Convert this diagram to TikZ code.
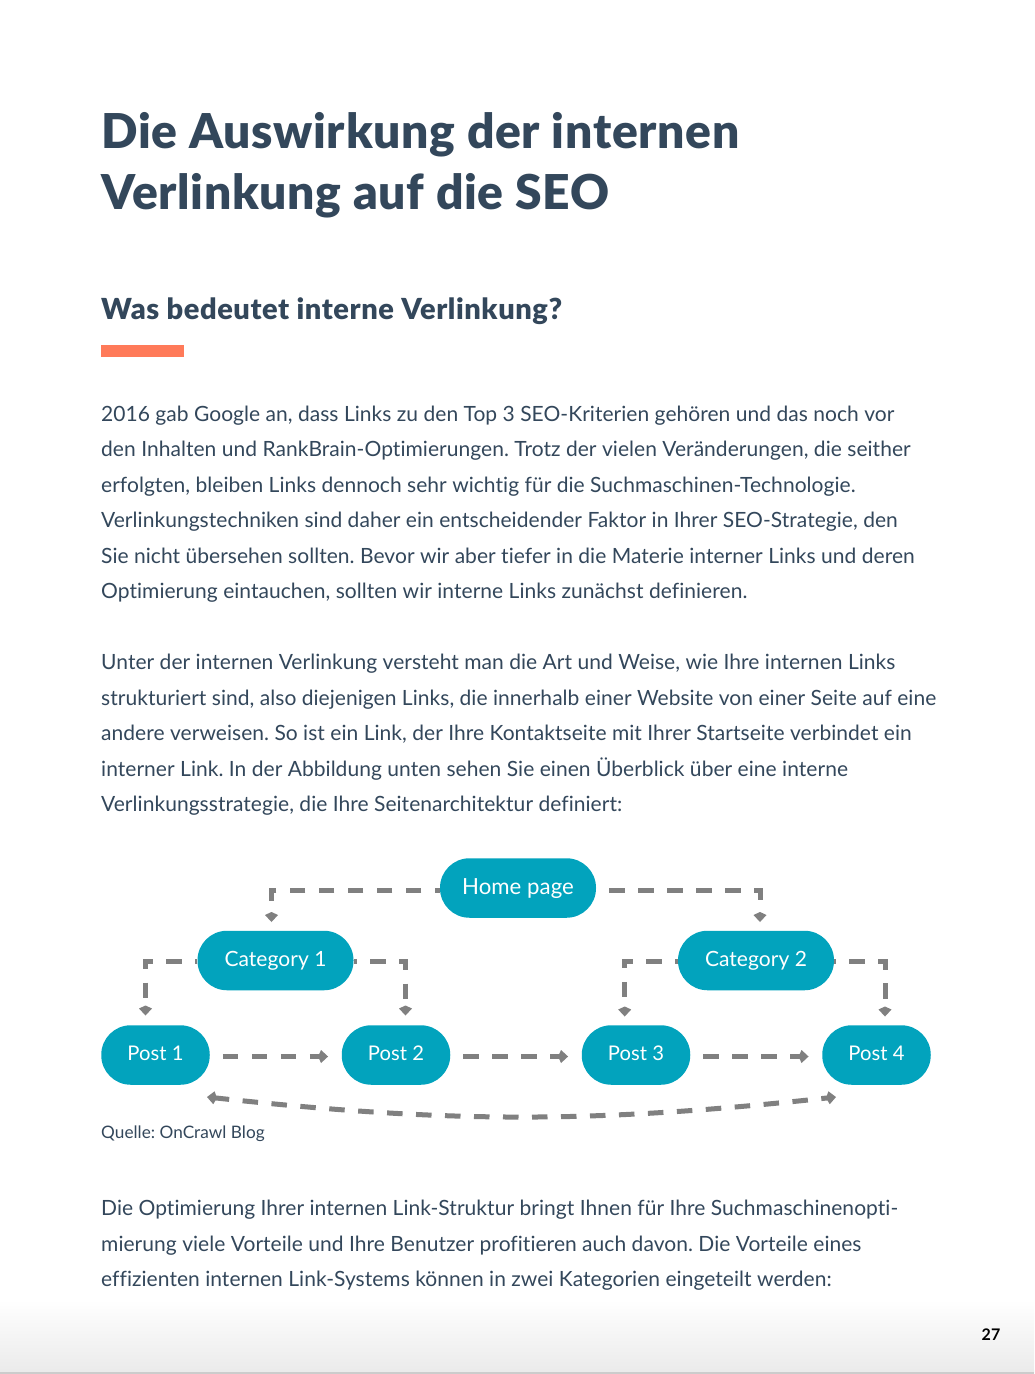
\documentclass[tikz,border=0pt]{standalone}
\usepackage{fontspec}
\setmainfont{Lato}[Ligatures=NoCommon, LetterSpace=0.2]
\newfontfamily\titlefont{Lato Black}[Ligatures=NoCommon, LetterSpace=1.4]
\newfontfamily\headfont{Lato Black}[Ligatures=NoCommon, LetterSpace=2]
\usetikzlibrary{arrows.meta,positioning}
\definecolor{inkblue}{HTML}{33475B}
\definecolor{pillblue}{HTML}{02A3BD}
\definecolor{barorange}{HTML}{FF7A59}
\definecolor{linkgray}{HTML}{808080}
\tikzset{
  linktip/.tip={Kite[length=10pt,width=13pt,inset=3pt]},
  pill/.style={fill=pillblue, text=white, rounded corners=29.5pt, minimum height=59.5pt,
    inner sep=0pt, font=\fontsize{21}{25}\selectfont},
  homepill/.style={pill, minimum width=156pt, text height=17pt, text depth=4.5pt, font=\fontsize{22.2}{25}\selectfont},
  catpill/.style={pill, minimum width=156pt, text height=17pt, text depth=4.5pt},
  postpill/.style={pill, minimum width=108.5pt, text depth=3.5pt, font=\fontsize{20.2}{25}\selectfont},
  link/.style={draw=linkgray, line width=5pt, dash pattern=on 15.5pt off 13.5pt, -linktip},
  titleline/.style={anchor=base west, inner sep=0pt, text=inkblue, font=\fontsize{48}{50}\selectfont\titlefont},
  headline/.style={anchor=base west, inner sep=0pt, text=inkblue, font=\fontsize{29}{30}\selectfont\headfont},
  bodyline/.style={anchor=base west, inner sep=0pt, text=inkblue, font=\fontsize{21}{25}\selectfont\frenchspacing},
  capline/.style={anchor=base west, inner sep=0pt, text=inkblue, font=\fontsize{17.2}{20}\selectfont\frenchspacing}
}
\begin{document}
\begin{tikzpicture}[x=1pt, y=-1pt]
  \useasboundingbox (0,0) rectangle (1034,1374);
  \fill[white] (0,0) rectangle (1034,1374);
  \shade[top color=white, bottom color=black!8] (0,1300) rectangle (1034,1372);
  \fill[black!20] (0,1372) rectangle (1034,1374);

  \node (t1) [titleline] at (101,148) {Die Auswirkung der internen};
  \node (t2) [titleline] at (101,209) {Verlinkung auf die SEO};
  \node (h1) [headline] at (101,319) {Was bedeutet interne Verlinkung?};
  \fill[barorange] (101,345) rectangle (184,357);

  \node (a1) [bodyline] at (101,421) {2016 gab Google an, dass Links zu den Top 3 SEO-Kriterien gehören und das noch vor};
  \node (a2) [bodyline] at (101,456) {den Inhalten und RankBrain-Optimierungen. Trotz der vielen Veränderungen, die seither};
  \node (a3) [bodyline] at (101,492) {erfolgten, bleiben Links dennoch sehr wichtig für die Suchmaschinen-Technologie.};
  \node (a4) [bodyline] at (101,527) {Verlinkungstechniken sind daher ein entscheidender Faktor in Ihrer SEO-Strategie, den};
  \node (a5) [bodyline] at (101,563) {Sie nicht übersehen sollten. Bevor wir aber tiefer in die Materie interner Links und deren};
  \node (a6) [bodyline] at (101,598) {Optimierung eintauchen, sollten wir interne Links zunächst definieren.};

  \node (b1) [bodyline] at (101,669) {Unter der internen Verlinkung versteht man die Art und Weise, wie Ihre internen Links};
  \node (b2) [bodyline] at (101,705) {strukturiert sind, also diejenigen Links, die innerhalb einer Website von einer Seite auf eine};
  \node (b3) [bodyline] at (101,740) {andere verweisen. So ist ein Link, der Ihre Kontaktseite mit Ihrer Startseite verbindet ein};
  \node (b4) [bodyline] at (101,776) {interner Link. In der Abbildung unten sehen Sie einen Überblick über eine interne};
  \node (b5) [bodyline] at (101,811) {Verlinkungsstrategie, die Ihre Seitenarchitektur definiert:};

  % diagram
  \node (home) [homepill] at (518,888) {Home page};
  \node (cat1) [catpill] at (275.5,960.5) {Category 1};
  \node (cat2) [catpill] at (756,960.5) {Category 2};
  \node (post1) [postpill] at (155.5,1055) {Post 1};
  \node (post2) [postpill] at (396,1055) {Post 2};
  \node (post3) [postpill] at (636,1055) {Post 3};
  \node (post4) [postpill] at (876.5,1055) {Post 4};

  \coordinate (cat1in) at (271.5,922);
  \coordinate (cat2in) at (760,922);
  \coordinate (post1in) at (145.5,1015.5);
  \coordinate (post2in) at (405.5,1015.5);
  \coordinate (post3in) at (624.7,1016.5);
  \coordinate (post4in) at (885,1016.5);
  \coordinate (post1low) at (207,1097);
  \coordinate (post4low) at (836,1097);

  \draw [link, dash phase=10.5pt] ([yshift=-2pt]home.west) -| (cat1in);
  \draw [link, shorten <=13pt] ([yshift=-2pt]home.east) -| (cat2in);
  \draw [link, dash phase=13.5pt] ([yshift=-0.5pt]cat1.west) -| (post1in);
  \draw [link, dash phase=12.5pt] ([yshift=-0.5pt]cat1.east) -| (post2in);
  \draw [link, dash phase=13pt] ([yshift=-0.5pt]cat2.west) -| (post3in);
  \draw [link, dash phase=14pt] ([yshift=-0.5pt]cat2.east) -| (post4in);
  \draw [link, shorten <=13pt, shorten >=13.5pt] ([yshift=-1.5pt]post1.east) -- ([yshift=-1.5pt]post2.west);
  \draw [link, shorten <=13pt, shorten >=13.5pt] ([yshift=-1.5pt]post2.east) -- ([yshift=-1.5pt]post3.west);
  \draw [link, shorten <=13pt, shorten >=13.5pt] ([yshift=-1.5pt]post3.east) -- ([yshift=-1.5pt]post4.west);
  \draw [link, linktip-linktip] (post1low) to [bend right=6.2] (post4low);

  \node (source) [capline] at (101,1138) {Quelle: OnCrawl Blog};

  \node (c1) [bodyline] at (101,1215) {Die Optimierung Ihrer internen Link-Struktur bringt Ihnen für Ihre Suchmaschinenopti-};
  \node (c2) [bodyline] at (101,1251) {mierung viele Vorteile und Ihre Benutzer profitieren auch davon. Die Vorteile eines};
  \node (c3) [bodyline] at (101,1286) {effizienten internen Link-Systems können in zwei Kategorien eingeteilt werden:};

  \node (pageno) [anchor=base east, inner sep=0pt, text=black, font=\fontsize{16}{18}\selectfont\bfseries] at (1000.5,1340) {27};
\end{tikzpicture}
\end{document}
